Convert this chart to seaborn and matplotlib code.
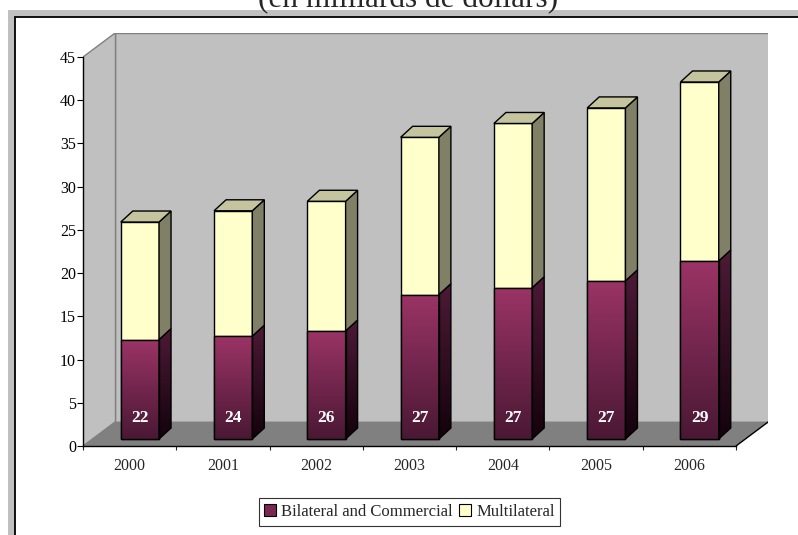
import numpy as np
import matplotlib
matplotlib.use("Agg")
import matplotlib.pyplot as plt
import seaborn as sns
from matplotlib.patches import Polygon, Rectangle, Patch
from matplotlib.colors import LinearSegmentedColormap

# ---------------- data ----------------
years = ["2000", "2001", "2002", "2003", "2004", "2005", "2006"]
bilateral = [11.5, 11.9, 12.5, 16.7, 17.5, 18.3, 20.6]
multilateral = [13.6, 14.5, 15.0, 18.2, 19.0, 20.0, 20.7]
bar_labels = ["22", "24", "26", "27", "27", "27", "29"]
series_names = ["Bilateral and Commercial", "Multilateral"]
title = "(en milliards de dollars)"
yticks = list(range(0, 50, 5))

# ---------------- style ----------------
sns.set_style("white")
plt.rcParams["font.family"] = ["Liberation Serif", "DejaVu Serif"]

W, H = 798, 535
fig = plt.figure(figsize=(W / 100, H / 100), dpi=100)
fig.patch.set_facecolor("white")

def fx(p):
    return p / W

def fy(p):
    return 1 - p / H

# outer frame (cropped at right / bottom)
fig.patches.append(Rectangle((fx(8), fy(560)), (830 - 8) / W, (560 - 10) / H,
                             transform=fig.transFigure, facecolor="#c0c0c0",
                             edgecolor="none", zorder=-10))
fig.patches.append(Rectangle((fx(15), fy(560)), (830 - 15) / W, (560 - 16.8) / H,
                             transform=fig.transFigure, facecolor="white",
                             edgecolor="black", linewidth=1.3, zorder=-9))

fig.text(fx(408), fy(7), title, ha="center", va="baseline", fontsize=22.5)

# axes geometry (pixels)
x0p, x1p, y0p, y1p = 83, 768, 446, 33
cat_px = (736 - 83) / 7
val_px = (446 - 57) / 45
ax = fig.add_axes([fx(x0p), fy(y0p), (x1p - x0p) / W, (y0p - y1p) / H])
ax.set_facecolor("none")
xmax = -0.5 + (x1p - x0p) / cat_px
ymax = (y0p - y1p) / val_px

# depth vectors in data units
Dx, Dy = 32.5 / cat_px, 24.3 / val_px          # full floor depth
bdx, bdy = 12 / cat_px, 11 / val_px            # bar depth
base = 7 / val_px                              # bar base height (front)
xoff = 0.11                                    # bar front shift
bar_w = 0.41
n = len(years)

# walls & floor
back = Polygon([(-0.5 + Dx, Dy), (n - 0.5 + Dx, Dy), (n - 0.5 + Dx, 45 + Dy), (-0.5 + Dx, 45 + Dy)],
               closed=True, facecolor="#c0c0c0", edgecolor="#808080", lw=1, zorder=0.5)
side = Polygon([(-0.5, 0), (-0.5, 45), (-0.5 + Dx, 45 + Dy), (-0.5 + Dx, Dy)],
               closed=True, facecolor="#c0c0c0", edgecolor="#808080", lw=1, zorder=0.6)
floor = Polygon([(-0.5, 0), (n - 0.5, 0), (n - 0.5 + Dx, Dy), (-0.5 + Dx, Dy)],
                closed=True, facecolor="#808080", edgecolor="none", zorder=0.7)
for p in (back, side, floor):
    ax.add_patch(p)
ax.plot([n - 0.5, n - 0.5 + Dx], [0, Dy], color="black", lw=1, zorder=0.8)

# front faces via seaborn
k0 = len(ax.patches)
sns.barplot(x=years, y=bilateral, bottom=base, color="#993366", saturation=1,
            width=bar_w, edgecolor="black", linewidth=1, ax=ax)
bil_patches = ax.patches[k0:]
k1 = len(ax.patches)
sns.barplot(x=years, y=multilateral, bottom=[base + b for b in bilateral],
            color="#ffffcc", saturation=1, width=bar_w, edgecolor="black",
            linewidth=1, ax=ax)
mul_patches = ax.patches[k1:]

def gradient(verts, c_top, c_bot, z):
    poly = Polygon(verts, closed=True, facecolor="none", edgecolor="black", lw=1, zorder=z + 0.02)
    ax.add_patch(poly)
    xs = [v[0] for v in verts]
    ys = [v[1] for v in verts]
    cmap = LinearSegmentedColormap.from_list("g", [c_bot, c_top])
    im = ax.imshow(np.linspace(0, 1, 256).reshape(-1, 1), cmap=cmap, origin="lower",
                   extent=[min(xs), max(xs), min(ys), max(ys)], aspect="auto",
                   interpolation="bilinear", zorder=z + 0.01)
    im.set_clip_path(poly)

for p in bil_patches:
    p.set_x(p.get_x() + xoff)
    p.set_zorder(3)
    x, y, w, h = p.get_x(), p.get_y(), p.get_width(), p.get_height()
    gradient([(x, y), (x + w, y), (x + w, y + h), (x, y + h)], "#9b3466", "#4a1834", 3)
    gradient([(x + w, y), (x + w + bdx, y + bdy), (x + w + bdx, y + h + bdy), (x + w, y + h)],
             "#4d1a36", "#14020c", 3)

for p in mul_patches:
    p.set_x(p.get_x() + xoff)
    p.set_zorder(3)
    x, y, w, h = p.get_x(), p.get_y(), p.get_width(), p.get_height()
    ax.add_patch(Polygon([(x + w, y), (x + w + bdx, y + bdy), (x + w + bdx, y + h + bdy), (x + w, y + h)],
                         closed=True, facecolor="#808066", edgecolor="black", lw=1, zorder=3.1))
    ax.add_patch(Polygon([(x, y + h), (x + w, y + h), (x + w + bdx, y + h + bdy), (x + bdx, y + h + bdy)],
                         closed=True, facecolor="#c4c49e", edgecolor="black", lw=1, zorder=3.1))

for i, (p, lab) in enumerate(zip(bil_patches, bar_labels)):
    ax.text(p.get_x() + p.get_width() / 2, (446 - 418) / val_px, lab, color="white",
            fontweight="bold", fontsize=12.5, ha="center", va="center", zorder=5)

# axes styling
ax.set_xlim(-0.5, xmax)
ax.set_ylim(0, ymax)
for s in ("top", "right"):
    ax.spines[s].set_visible(False)
ax.spines["left"].set_bounds(0, 45)
ax.spines["bottom"].set_bounds(-0.5, n - 0.5)
for s in ("left", "bottom"):
    ax.spines[s].set_color("black")
    ax.spines[s].set_linewidth(1)
    ax.spines[s].set_zorder(4)
ax.set_yticks(yticks)
ax.set_yticklabels([str(t) for t in yticks])
ax.set_xticks(np.arange(-0.5, n, 1.0))
ax.set_xticklabels([""] * (n + 1))
ax.set_xticks(np.arange(n), minor=True)
ax.set_xticklabels(years, minor=True)
ax.tick_params(axis="y", direction="out", length=4, width=0.8, pad=1, labelsize=11.5,
               left=True, colors="black")
ax.tick_params(axis="x", which="major", direction="out", length=3, width=0.8, bottom=True)
ax.tick_params(axis="x", which="minor", length=0, pad=9, labelsize=11.5)
ax.set_xlabel("")
ax.set_ylabel("")

handles = [Patch(facecolor="#7a2752", edgecolor="black", lw=0.8),
           Patch(facecolor="#ffffcc", edgecolor="black", lw=0.8)]
leg = fig.legend(handles, series_names, loc="center", bbox_to_anchor=(fx(409.5), fy(512)),
                 ncol=2, fontsize=12, frameon=True, fancybox=False, edgecolor="black",
                 handlelength=0.7, handleheight=0.7, handletextpad=0.3, columnspacing=0.4,
                 borderpad=0.35, borderaxespad=0)
leg.get_frame().set_linewidth(0.8)

fig.savefig("out.png", dpi=100, facecolor="white")
